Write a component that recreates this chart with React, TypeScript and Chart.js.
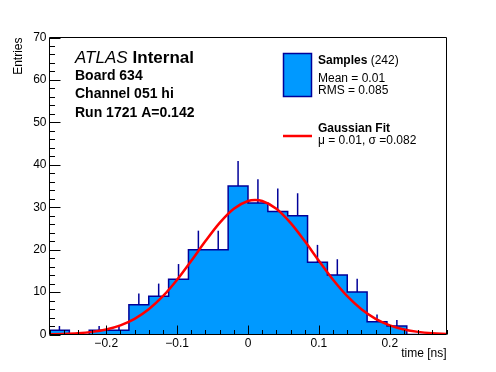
import React, { useEffect, useRef } from 'react';
import { Chart, registerables } from 'chart.js';

Chart.register(...registerables);

// ---- data ----
const xMin = -0.28;
const xMax = 0.28;
const binWidth = 0.028;
const binCounts = [1, 0, 1, 1, 7, 9, 13, 20, 20, 35, 31, 29, 28, 17, 14, 10, 3, 2, 0, 0];
const fitX = [
  -0.28, -0.26, -0.24, -0.22, -0.2, -0.18, -0.16, -0.14, -0.12, -0.1, -0.08, -0.06, -0.04, -0.02, 0.0,
  0.01,
  0.02, 0.04, 0.06, 0.08, 0.1, 0.12, 0.14, 0.16, 0.18, 0.2, 0.22, 0.24, 0.26, 0.28,
];
const fitY = [
  0.06, 0.14, 0.3, 0.62, 1.19, 2.16, 3.7, 5.95, 9.02, 12.89, 17.36, 22.02, 26.32, 29.65, 31.47,
  31.7,
  31.47, 29.65, 26.32, 22.02, 17.36, 12.89, 9.02, 5.95, 3.7, 2.16, 1.19, 0.62, 0.3, 0.14,
];
const yMin = 0;
const yMax = 70;
const yMajorStep = 10;
const yMinorStep = 2;
const xMajorStep = 0.1;
const xMinorStep = 0.02;

const headerLines = ['Board 634', 'Channel 051 hi', 'Run 1721 A=0.142'];
const legendSamples = { title: 'Samples', count: '(242)', mean: 'Mean = 0.01', rms: 'RMS = 0.085' };
const legendFit = { title: 'Gaussian Fit', params: 'μ = 0.01, σ =0.082' };

// ---- styles ----
const FONT = '"Liberation Sans", Arial, Helvetica, sans-serif';
const FILL = 'rgb(0,153,255)';
const EDGE = '#000099';
const FIT = '#ff0000';

export default function App() {
  const ref = useRef<HTMLCanvasElement | null>(null);

  useEffect(() => {
    if (!ref.current) return;
    const edges = binCounts.map((_, i) => xMin + i * binWidth);
    const histPoints = edges.map((e, i) => ({ x: e, y: binCounts[i] }));
    histPoints.push({ x: xMax, y: binCounts[binCounts.length - 1] });
    const fitPoints = fitX.map((x, i) => ({ x, y: fitY[i] }));

    const overlay = {
      id: 'overlay',
      afterDatasetDraw(chart: any, args: any) {
        if (args.index !== 0) return;
        const { ctx, scales } = chart;
        const xs = scales.x;
        const ys = scales.y;
        ctx.save();
        ctx.strokeStyle = EDGE;
        ctx.lineWidth = 1.5;
        binCounts.forEach((c, i) => {
          if (c <= 0) return;
          const xc = xs.getPixelForValue(edges[i] + binWidth / 2);
          const y0 = ys.getPixelForValue(c);
          const y1 = ys.getPixelForValue(c + Math.sqrt(c));
          ctx.beginPath();
          ctx.moveTo(xc, y0);
          ctx.lineTo(xc, y1);
          ctx.stroke();
        });
        ctx.restore();
      },
      afterDraw(chart: any) {
        const { ctx, chartArea: a, scales } = chart;
        const xs = scales.x;
        const ys = scales.y;
        ctx.save();
        // inner ticks
        ctx.strokeStyle = '#000';
        ctx.lineWidth = 1;
        ctx.beginPath();
        for (let v = yMin; v <= yMax + 1e-9; v += yMinorStep) {
          const y = Math.round(ys.getPixelForValue(v)) + 0.5;
          const len = Math.abs(v % yMajorStep) < 1e-9 ? 11 : 5.5;
          ctx.moveTo(a.left, y);
          ctx.lineTo(a.left + len, y);
        }
        const nMinor = Math.round((xMax - xMin) / xMinorStep);
        const perMajor = Math.round(xMajorStep / xMinorStep);
        const iStart = Math.round(xMin / xMinorStep);
        for (let k = 0; k <= nMinor; k++) {
          const i = iStart + k;
          const v = i * xMinorStep;
          const x = Math.round(xs.getPixelForValue(v)) + 0.5;
          const len = i % perMajor === 0 ? 9 : 4.5;
          ctx.moveTo(x, a.bottom);
          ctx.lineTo(x, a.bottom - len);
        }
        ctx.stroke();
        // frame
        ctx.beginPath();
        ctx.rect(a.left, a.top, a.right - a.left, a.bottom - a.top);
        ctx.stroke();

        // header texts
        ctx.fillStyle = '#000';
        ctx.textBaseline = 'middle';
        ctx.textAlign = 'left';
        ctx.font = `italic 17px ${FONT}`;
        ctx.fillText('ATLAS', 75, 58.5);
        const wA = ctx.measureText('ATLAS').width;
        ctx.font = `bold 17px ${FONT}`;
        ctx.fillText('Internal', 75 + wA + 5, 58.5);
        ctx.font = `bold 14px ${FONT}`;
        const hy = [76, 94.5, 113];
        headerLines.forEach((t, i) => ctx.fillText(t, 75, hy[i]));

        // legend
        ctx.fillStyle = FILL;
        ctx.fillRect(283.5, 53.5, 28, 43);
        ctx.strokeStyle = EDGE;
        ctx.lineWidth = 1.5;
        ctx.strokeRect(283.5, 53.5, 28, 43);
        ctx.fillStyle = '#000';
        ctx.font = `bold 12px ${FONT}`;
        ctx.fillText(legendSamples.title, 318, 61);
        const wS = ctx.measureText(legendSamples.title + ' ').width;
        ctx.font = `12px ${FONT}`;
        ctx.fillText(legendSamples.count, 318 + wS, 61);
        ctx.fillText(legendSamples.mean, 318, 78.5);
        ctx.fillText(legendSamples.rms, 318, 90.5);

        ctx.strokeStyle = FIT;
        ctx.lineWidth = 2.5;
        ctx.beginPath();
        ctx.moveTo(283, 136);
        ctx.lineTo(312, 136);
        ctx.stroke();
        ctx.font = `bold 12px ${FONT}`;
        ctx.fillText(legendFit.title, 318, 129);
        ctx.font = `12px ${FONT}`;
        ctx.fillText(legendFit.params, 318, 141);
        ctx.restore();
      },
    };

    const chart = new Chart(ref.current, {
      type: 'line',
      data: {
        datasets: [
          {
            data: histPoints,
            stepped: 'before',
            borderColor: EDGE,
            borderWidth: 1.5,
            backgroundColor: FILL,
            fill: 'origin',
            pointRadius: 0,
            order: 2,
          } as any,
          {
            data: fitPoints,
            borderColor: FIT,
            borderWidth: 2.5,
            pointRadius: 0,
            fill: false,
            cubicInterpolationMode: 'monotone',
            order: 1,
          } as any,
        ],
      },
      options: {
        responsive: false,
        animation: false,
        devicePixelRatio: 1,
        layout: { padding: { left: 0, top: 37.5, right: 49.5, bottom: 0 } },
        plugins: { legend: { display: false }, tooltip: { enabled: false } },
        scales: {
          x: {
            type: 'linear',
            min: xMin,
            max: xMax,
            grid: { display: false, drawTicks: false },
            border: { display: false },
            ticks: {
              stepSize: xMajorStep,
              includeBounds: false,
              autoSkip: false,
              maxRotation: 0,
              padding: 2,
              color: '#000',
              font: { family: FONT, size: 12 },
              callback: (v: any) => {
                const s = Number(v).toFixed(1);
                if (s === '0.0' || s === '-0.0') return '0';
                return s.replace('-', '\u2212');
              },
            },
            title: {
              display: true,
              text: 'time [ns]',
              align: 'end',
              color: '#000',
              font: { family: FONT, size: 12 },
              padding: { top: 0, bottom: 11.5 },
            },
            afterFit: (s: any) => {
              s.height = 37.5;
            },
          } as any,
          y: {
            type: 'linear',
            min: yMin,
            max: yMax,
            grid: { display: false, drawTicks: false },
            border: { display: false },
            ticks: {
              stepSize: yMajorStep,
              padding: 3,
              color: '#000',
              font: { family: FONT, size: 12 },
            },
            title: {
              display: true,
              text: 'Entries',
              align: 'end',
              color: '#000',
              font: { family: FONT, size: 12 },
              padding: { top: 11.3, bottom: 0 },
            },
            afterFit: (s: any) => {
              s.width = 49.5;
            },
          } as any,
        },
      },
      plugins: [overlay],
    });
    return () => chart.destroy();
  }, []);

  return (
    <div style={{ position: 'absolute', left: 0, top: 0, width: 496, height: 372, background: '#fff' }}>
      <canvas ref={ref} width={496} height={372} style={{ display: 'block' }} />
    </div>
  );
}
